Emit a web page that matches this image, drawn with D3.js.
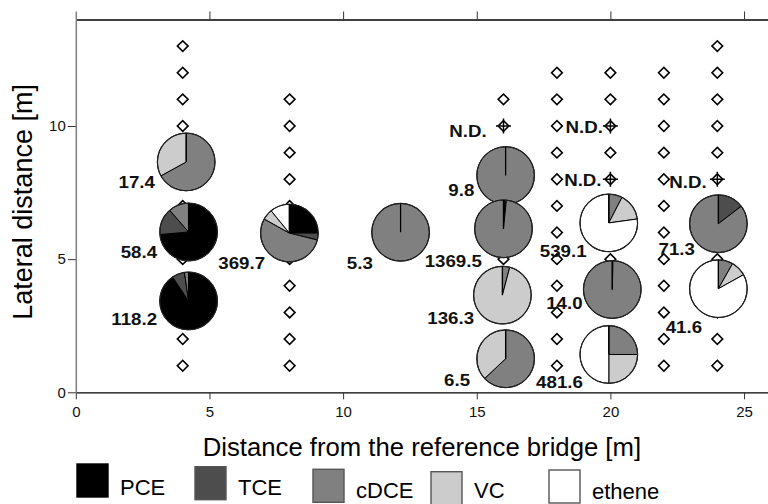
<!DOCTYPE html>
<html>
<head>
<meta charset="utf-8">
<script src="https://cdn.jsdelivr.net/npm/d3@7"></script>
<style>
  html, body { margin: 0; padding: 0; background: #fff; }
  svg { display: block; font-family: "Liberation Sans", Arial, sans-serif; }
</style>
</head>
<body>
<svg id="chart" width="768" height="504"></svg>
<script>
// ---------------- data ----------------
const categories = ["PCE", "TCE", "cDCE", "VC", "ethene"];
const categoryColors = ["#000000", "#4d4d4d", "#808080", "#cccccc", "#ffffff"];

// pie sampling points (distance from bridge, lateral distance) and total concentrations
const pieX = [4.13, 4.22, 4.22, 7.99, 12.15, 16.08, 16.0, 15.96, 16.08, 19.94, 20.07, 19.94, 24.04, 24.04];
const pieY = [8.65, 6.02, 3.43, 5.98, 6.01, 8.14, 6.14, 3.65, 1.26, 6.36, 3.86, 1.42, 6.33, 3.89];
const pieTotal = [17.4, 58.4, 118.2, 369.7, 5.3, 9.8, 1369.5, 136.3, 6.5, 539.1, 14.0, 481.6, 71.3, 41.6];
// composition in % : PCE, TCE, cDCE, VC, ethene
const pieShares = [
  [0, 0, 67, 33, 0],
  [73.6, 15, 11.4, 0, 0],
  [90.6, 7.1, 2.3, 0, 0],
  [25, 3.9, 54.2, 6, 10.9],
  [0, 0, 100, 0, 0],
  [0, 0, 100, 0, 0],
  [0.8, 0.8, 98.4, 0, 0],
  [0, 0, 4.1, 95.9, 0],
  [0, 0, 63, 37, 0],
  [0, 0, 7.6, 15.2, 77.2],
  [0.4, 0, 99.6, 0, 0],
  [0, 0, 25, 25, 50],
  [0, 14.6, 85.4, 0, 0],
  [0, 0, 8.2, 8.7, 83.1]
];
// label anchors (right end, baseline) in data units
const labelX = [2.96, 3.04, 3.04, 7.08, 11.11, 14.91, 15.19, 14.90, 14.75, 19.11, 18.96, 18.97, 23.16, 23.43];
const labelY = [7.67, 5.04, 2.53, 4.63, 4.63, 7.37, 4.72, 2.56, 0.24, 5.07, 3.12, 0.16, 5.16, 2.22];

// monitoring wells (diamonds)
const wellColumnsX = [4, 8, 16, 18, 20, 22, 24];
const wellColumnsY = [
  [1, 2, 3, 4, 5, 6, 7, 8, 9, 10, 11, 12, 13],
  [1, 2, 3, 4, 5, 6, 7, 8, 9, 10, 11],
  [1, 2, 3, 4, 5, 6, 7, 8, 9, 11],
  [1, 2, 3, 4, 5, 6, 7, 8, 9, 10, 11, 12],
  [5, 7, 9, 11, 12],
  [1, 2, 3, 4, 5, 6, 7, 8, 9, 10, 11, 12],
  [1, 2, 3, 4, 5, 6, 7, 9, 10, 11, 12, 13]
];

// not detected points
const ndX = [16, 20, 20, 24];
const ndY = [10, 10, 8, 8];
const ndLabelX = [15.37, 19.72, 19.67, 23.60];
const ndLabelY = [9.60, 9.74, 7.75, 7.66];
const ndText = "N.D.";

const xTicks = [0, 5, 10, 15, 20, 25];
const yTicks = [0, 5, 10];
const xTitle = "Distance from the reference bridge [m]";
const yTitle = "Lateral distance [m]";

// ---------------- layout ----------------
const svg = d3.select("#chart");
const X0 = 75.8, UX = 26.73, Y0 = 392.3, UY = 26.63;
const x = d3.scaleLinear().domain([0, 26]).range([X0, X0 + 26 * UX]);
const y = d3.scaleLinear().domain([0, 14]).range([Y0, Y0 - 14 * UY]);
const R = 28.8;

// axes
const gBottom = svg.append("g").attr("transform", `translate(0,${Y0})`)
  .call(d3.axisBottom(x).tickValues(xTicks).tickSize(7).tickSizeOuter(0).tickPadding(3));
gBottom.select(".domain").attr("stroke", "#000").attr("stroke-width", 1.3);
gBottom.selectAll(".tick line").attr("stroke", "#333").attr("stroke-width", 1);
gBottom.selectAll(".tick text").attr("font-size", 15).attr("fill", "#111")
  .attr("font-family", "Liberation Sans, Arial, sans-serif").attr("dy", "0.95em");

const gTop = svg.append("g").attr("transform", `translate(0,${y(14)})`)
  .call(d3.axisTop(x).tickValues(xTicks).tickSize(8).tickSizeOuter(0).tickFormat(""));
gTop.select(".domain").attr("stroke", "#000").attr("stroke-width", 1.3);
gTop.selectAll(".tick line").attr("stroke", (d) => d === 0 ? "#808080" : "#333").attr("stroke-width", (d) => d === 0 ? 1.5 : 1);

const gLeft = svg.append("g").attr("transform", `translate(${X0},0)`)
  .call(d3.axisLeft(y).tickValues(yTicks).tickSize(8).tickSizeOuter(0).tickPadding(2));
gLeft.select(".domain").attr("stroke", "#808080").attr("stroke-width", 1.5);
gLeft.selectAll(".tick line").attr("stroke", "#333").attr("stroke-width", 1);
gLeft.selectAll(".tick text").attr("font-size", 15).attr("fill", "#111")
  .attr("font-family", "Liberation Sans, Arial, sans-serif");

// axis titles
svg.append("text").attr("x", (x(0) + 768) / 2).attr("y", 456)
  .attr("text-anchor", "middle").attr("font-size", 25.7).attr("fill", "#000").text(xTitle);
svg.append("text").attr("transform", `translate(32,${(y(0) + y(14)) / 2 - 4}) rotate(-90)`)
  .attr("text-anchor", "middle").attr("font-size", 27).attr("fill", "#000").text(yTitle);

// wells
const wells = [];
wellColumnsX.forEach((wx, i) => wellColumnsY[i].forEach((wy) => wells.push({ x: wx, y: wy })));
const diamond = d3.symbol().type(d3.symbolSquare).size(57);
svg.append("g").selectAll("path").data(wells).join("path")
  .attr("d", diamond)
  .attr("transform", (d) => `translate(${x(d.x)},${y(d.y)}) rotate(45)`)
  .attr("fill", "#fff").attr("stroke", "#000").attr("stroke-width", 1.6);

// pies
const pie = d3.pie().sort(null).value((d) => d.v);
const arc = d3.arc().innerRadius(0).outerRadius(R);
const pieData = pieTotal.map((t, i) => ({ i, x: pieX[i], y: pieY[i], total: t,
  parts: categories.map((c, k) => ({ cat: c, k, v: pieShares[i][k] })) }));
const gPies = svg.append("g").selectAll("g").data(pieData).join("g")
  .attr("transform", (d) => `translate(${x(d.x)},${y(d.y)})`);
gPies.append("circle").attr("r", R).attr("fill", "#808080");
gPies.selectAll("path").data((d) => pie(d.parts).filter((a) => a.data.v > 0)).join("path")
  .attr("d", arc).attr("fill", (a) => categoryColors[a.data.k])
  .attr("stroke", "#000").attr("stroke-width", 1).attr("stroke-linejoin", "round");
gPies.append("circle").attr("r", R).attr("fill", "none").attr("stroke", "#222").attr("stroke-width", 1.2);
gPies.append("line").attr("x1", 0).attr("y1", 0).attr("x2", 0).attr("y2", -R)
  .attr("stroke", "#000").attr("stroke-width", 1.3);

// pie labels
svg.append("g").selectAll("text").data(pieData).join("text")
  .attr("transform", (d) => `translate(${x(labelX[d.i])},${y(labelY[d.i])}) scale(1.1,1)`)
  .attr("text-anchor", "end").attr("font-size", 17).attr("font-weight", "bold").attr("fill", "#111")
  .text((d) => d.total.toFixed(1));

// N.D. markers
const ndData = ndX.map((v, i) => ({ i, x: v, y: ndY[i] }));
const gNd = svg.append("g").selectAll("g").data(ndData).join("g")
  .attr("transform", (d) => `translate(${x(d.x)},${y(d.y)})`);
gNd.append("path").attr("d", diamond).attr("transform", "rotate(45)")
  .attr("fill", "#fff").attr("stroke", "#000").attr("stroke-width", 1.6);
gNd.append("line").attr("x1", -7.5).attr("x2", 7.5).attr("y1", 0).attr("y2", 0).attr("stroke", "#000").attr("stroke-width", 1.5);
gNd.append("line").attr("x1", 0).attr("x2", 0).attr("y1", -7.5).attr("y2", 7.5).attr("stroke", "#000").attr("stroke-width", 1.5);
svg.append("g").selectAll("text").data(ndData).join("text")
  .attr("transform", (d) => `translate(${x(ndLabelX[d.i])},${y(ndLabelY[d.i])}) scale(1.1,1)`)
  .attr("text-anchor", "end").attr("font-size", 17).attr("font-weight", "bold").attr("fill", "#111")
  .text(ndText);

// legend
const legTop = [464, 466.7, 469.3, 471.7, 470];
const legBase = [495, 495, 498, 498, 499];
const legX = (k) => 77 + k * 118;
const gLeg = svg.append("g").selectAll("g").data(categories).join("g");
gLeg.append("rect")
  .attr("x", (d, k) => legX(k)).attr("y", (d, k) => legTop[k])
  .attr("width", 31).attr("height", 33)
  .attr("fill", (d, k) => categoryColors[k])
  .attr("stroke", (d, k) => k === 0 ? "#000" : "#555").attr("stroke-width", 1.4);
gLeg.append("text")
  .attr("x", (d, k) => legX(k) + 43).attr("y", (d, k) => legBase[k])
  .attr("font-size", 22).attr("fill", "#000").text((d) => d);
</script>
</body>
</html>
